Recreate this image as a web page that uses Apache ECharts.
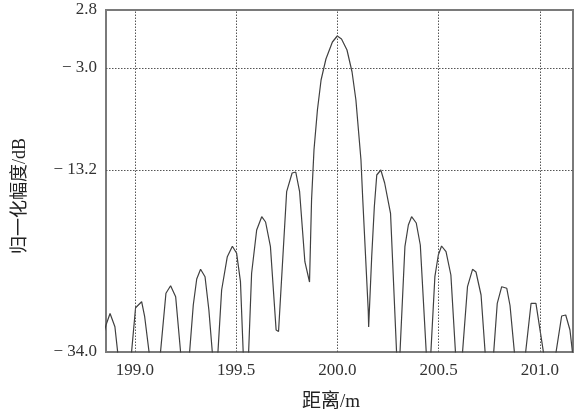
<!DOCTYPE html>
<html>
<head>
<meta charset="utf-8">
<script src="https://cdn.jsdelivr.net/npm/echarts@6/dist/echarts.min.js"></script>
<style>html,body{margin:0;padding:0;background:#fff}#c{width:584px;height:416px}</style>
</head>
<body>
<div id="c"></div>
<script>
// distance (m)
var distance = [198.838,198.858,198.878,198.902,198.953,199.004,199.034,199.049,199.103,199.154,199.177,199.202,199.250,199.289,199.306,199.325,199.347,199.366,199.399,199.429,199.457,199.482,199.503,199.522,199.549,199.577,199.602,199.627,199.646,199.670,199.698,199.710,199.750,199.777,199.795,199.814,199.840,199.863,199.873,199.885,199.902,199.920,199.944,199.976,200.000,200.021,200.048,200.073,200.092,200.117,200.126,200.153,200.155,200.170,200.183,200.195,200.215,200.234,200.263,200.301,200.334,200.351,200.367,200.390,200.410,200.451,200.482,200.499,200.515,200.537,200.561,200.599,200.643,200.668,200.685,200.710,200.751,200.790,200.812,200.837,200.853,200.900,200.957,200.981,201.049,201.108,201.128,201.149,201.174];
// normalized amplitude (dB)
var amplitude = [-30.2,-28.7,-27.55,-28.87,-38.4,-26.97,-26.37,-27.87,-36.7,-25.53,-24.77,-25.87,-36.8,-26.7,-24.1,-23.13,-23.87,-27.2,-35.4,-25.2,-21.87,-20.83,-21.53,-24.37,-38.5,-23.53,-19.2,-17.87,-18.4,-20.87,-29.2,-29.35,-15.37,-13.5,-13.4,-15.37,-22.37,-24.4,-16.2,-11.2,-7.2,-4.2,-2.1,-0.4,0.2,-0.1,-1.2,-3.4,-6.2,-12.2,-16.2,-27.3,-28.9,-21.87,-16.87,-13.7,-13.2,-14.5,-17.53,-35.25,-20.87,-18.7,-17.87,-18.5,-20.7,-35.7,-23.87,-21.7,-20.8,-21.37,-23.7,-36.65,-24.87,-23.13,-23.4,-25.7,-37.4,-26.53,-24.87,-25.03,-26.75,-36.9,-26.53,-26.53,-35.5,-27.8,-27.7,-29.2,-33.7];

var xTicks = [199.0, 199.5, 200.0, 200.5, 201.0];
var yTicks = [2.8, -3.0, -13.2, -31.4];
var yTickLabels = ['2.8', '\u2212 3.0', '\u2212 13.2', '\u2212 34.0'];
var xTitle = '距离/m';
var yTitle = '归一化幅度/dB';

var pts = distance.map(function (d, i) { return [d, amplitude[i]]; });
var gridMarks = xTicks.map(function (v) { return { xAxis: v }; })
  .concat(yTicks.slice(1, 3).map(function (v) { return { yAxis: v }; }));

var font = '"Liberation Serif", "Times New Roman", serif';
var chart = echarts.init(document.getElementById('c'), null, { renderer: 'canvas' });
chart.setOption({
  animation: false,
  backgroundColor: '#fff',
  grid: { left: 106, right: 11, top: 10, bottom: 64, show: true, borderColor: '#7a7a7a', borderWidth: 2, backgroundColor: 'transparent' },
  xAxis: {
    type: 'value', min: 198.858, max: 201.164,
    axisLine: { show: false }, axisTick: { show: false }, splitLine: { show: false },
    axisLabel: {
      customValues: xTicks, margin: 10, color: '#333', fontSize: 17, fontFamily: font,
      formatter: function (v) { return v.toFixed(1); }
    }
  },
  yAxis: {
    type: 'value', min: -31.4, max: 2.8,
    axisLine: { show: false }, axisTick: { show: false }, splitLine: { show: false },
    axisLabel: {
      customValues: yTicks, margin: 9, color: '#333', fontSize: 17, fontFamily: font,
      formatter: function (v) {
        for (var i = 0; i < yTicks.length; i++) { if (Math.abs(v - yTicks[i]) < 1e-6) return yTickLabels[i]; }
        return '';
      }
    }
  },
  graphic: [
    { type: 'text', x: 20, y: 196, rotation: Math.PI / 2,
      style: { text: yTitle, font: '18px "Liberation Serif", "Noto Sans CJK SC"', fill: '#222', textAlign: 'center', textVerticalAlign: 'middle' } },
    { type: 'text', x: 331, y: 402,
      style: { text: xTitle, font: '19px "Liberation Serif", "Noto Sans CJK SC"', fill: '#222', textAlign: 'center', textVerticalAlign: 'middle' } }
  ],
  series: [{
    type: 'line', data: pts, showSymbol: false, clip: true,
    lineStyle: { color: '#404040', width: 1.2 },
    markLine: {
      silent: true, symbol: ['none', 'none'], label: { show: false },
      lineStyle: { type: [1.5, 1.5], color: '#555', width: 1 },
      data: gridMarks
    }
  }]
});
</script>
</body>
</html>
